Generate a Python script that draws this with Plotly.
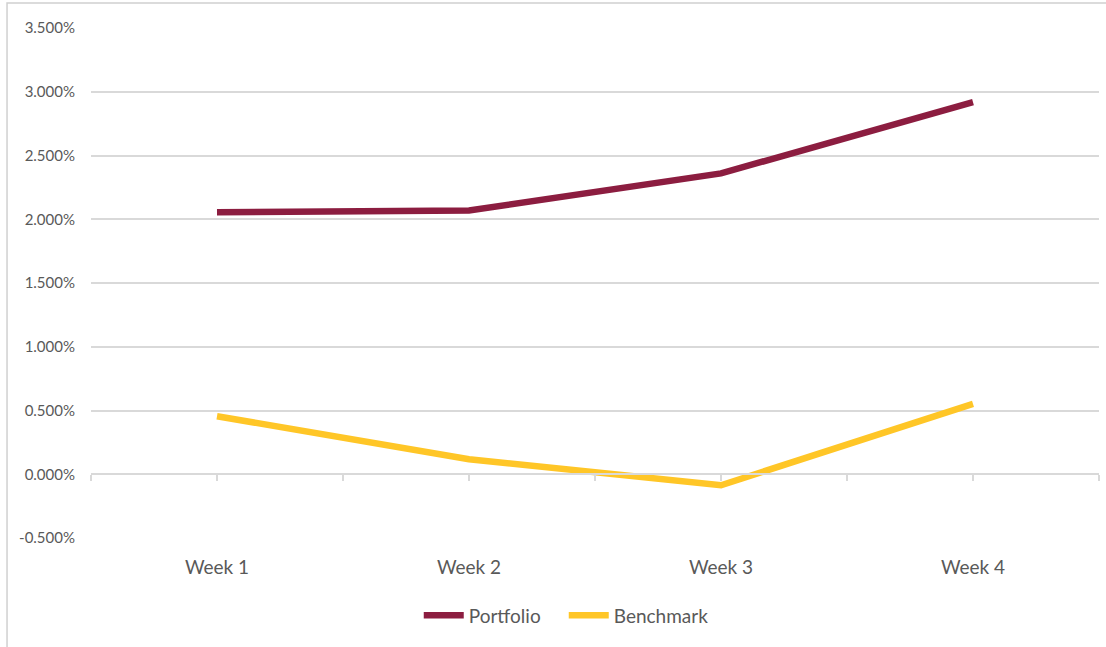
import plotly.graph_objects as go

weeks = ["Week 1", "Week 2", "Week 3", "Week 4"]
portfolio = [2.055, 2.068, 2.36, 2.918]
benchmark = [0.455, 0.118, -0.086, 0.552]
y_ticks = [-0.5, 0.0, 0.5, 1.0, 1.5, 2.0, 2.5, 3.0, 3.5]
y_tick_text = [f"{v:.3f}%" for v in y_ticks]

MAROON = "#8C1D40"
GOLD = "#FFC627"
GRID = "#D9D9D9"
TEXT = "#595959"
FONT = "Lato, 'Open Sans', sans-serif"

x_pos = list(range(len(weeks)))

fig = go.Figure()
fig.add_trace(go.Scatter(
    x=x_pos, y=portfolio, name="Portfolio", mode="lines",
    line=dict(color=MAROON, width=6.5),
))
fig.add_trace(go.Scatter(
    x=x_pos, y=benchmark, name="Benchmark", mode="lines",
    line=dict(color=GOLD, width=6.5),
))
# invisible trace that carries the horizontal axis line drawn at 0%
fig.add_trace(go.Scatter(
    x=[x_pos[0]], y=[0], xaxis="x2", mode="markers",
    marker=dict(opacity=0), showlegend=False, hoverinfo="skip",
))

half_steps = [i * 0.5 - 0.5 for i in range(2 * len(weeks) + 1)]

fig.update_layout(
    width=1106, height=647,
    margin=dict(l=91, r=7, t=28, b=109),
    paper_bgcolor="white", plot_bgcolor="white",
    font=dict(family=FONT, color=TEXT),
    showlegend=True,
    legend=dict(
        orientation="h", x=0.469, xanchor="center", y=-0.152, yanchor="middle",
        font=dict(size=19, color=TEXT), itemwidth=40,
        entrywidth=90, entrywidthmode="pixels",
        traceorder="normal",
    ),
    xaxis=dict(
        range=[-0.5, len(weeks) - 0.5],
        tickmode="array", tickvals=x_pos, ticktext=weeks,
        showgrid=False, showline=False, zeroline=False, ticks="",
        tickfont=dict(size=19, color=TEXT), ticklabelstandoff=16,
    ),
    xaxis2=dict(
        overlaying="x", anchor="free", position=0.125, side="bottom",
        range=[-0.5, len(weeks) - 0.5],
        tickmode="array", tickvals=half_steps, showticklabels=False,
        showgrid=False, zeroline=False,
        showline=True, linecolor=GRID, linewidth=1.5,
        ticks="outside", ticklen=6, tickcolor=GRID, tickwidth=1.5,
    ),
    yaxis=dict(
        range=[-0.5, 3.5],
        tickmode="array", tickvals=y_ticks, ticktext=y_tick_text,
        showgrid=True, gridcolor=GRID, gridwidth=1.5,
        zeroline=False, showline=False, ticks="",
        tickfont=dict(size=15, color=TEXT), ticklabelstandoff=15,
    ),
    shapes=[dict(
        type="rect", xref="paper", yref="paper",
        x0=-0.0833, x1=1.2, y0=-0.4, y1=1.049,
        line=dict(color="#D0D0D0", width=1.5), fillcolor="rgba(0,0,0,0)",
        layer="below",
    )],
)

fig.write_html("out.html")
